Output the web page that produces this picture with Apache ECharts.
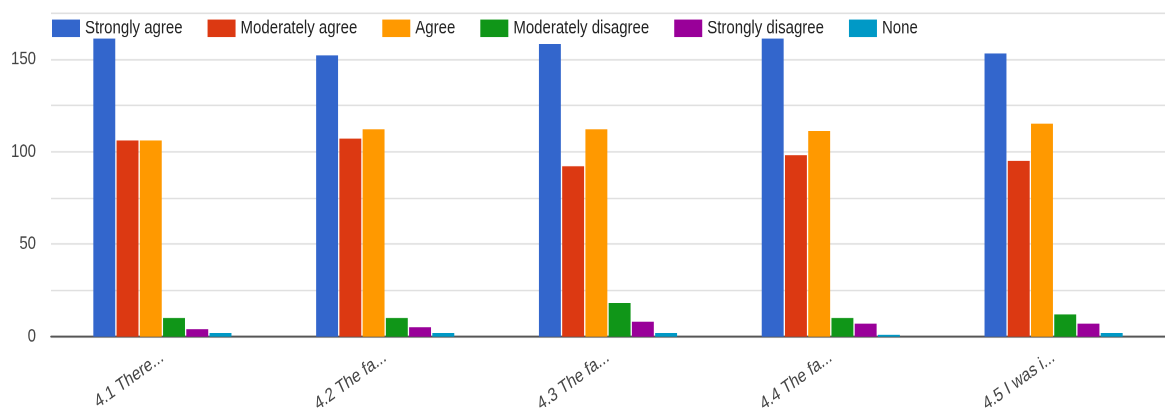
<!DOCTYPE html>
<html>
<head>
<meta charset="utf-8">
<script src="https://cdn.jsdelivr.net/npm/echarts@6/dist/echarts.min.js"></script>
<style>
html,body{margin:0;padding:0;background:#fff;overflow:hidden;width:1165px;height:416px;}
#main{position:absolute;left:0;top:0;width:1165px;height:330px;transform:scaleY(1.260606);transform-origin:0 0;}
</style>
</head>
<body>
<div id="main"></div>
<script>
var categories = ['4.1 There...', '4.2 The fa...', '4.3 The fa...', '4.4 The fa...', '4.5 I was i...'];
var seriesNames = ['Strongly agree', 'Moderately agree', 'Agree', 'Moderately disagree', 'Strongly disagree', 'None'];
var stronglyAgree = [161, 152, 158, 161, 153];
var moderatelyAgree = [106, 107, 92, 98, 95];
var agree = [106, 112, 112, 111, 115];
var moderatelyDisagree = [10, 10, 18, 10, 12];
var stronglyDisagree = [4, 5, 8, 7, 7];
var none = [2, 2, 2, 1, 2];
var yTickLabels = [0, 50, 100, 150];

var colors = ['#3366cc', '#dc3912', '#ff9900', '#109618', '#990099', '#0099c6'];
var values = [stronglyAgree, moderatelyAgree, agree, moderatelyDisagree, stronglyDisagree, none];
var font = "'Liberation Sans', Arial, sans-serif";

var chart = echarts.init(document.getElementById('main'), null, {renderer: 'canvas', devicePixelRatio: 2});
chart.setOption({
  animation: false,
  color: colors,
  textStyle: {fontFamily: font},
  legend: {
    left: 52, top: 15, padding: 0,
    itemWidth: 28, itemHeight: 14, itemGap: 25,
    icon: 'rect',
    textStyle: {fontSize: 15, color: '#222', fontFamily: font},
    data: seriesNames
  },
  grid: {left: 51, width: 1125, top: 10.1, bottom: 62.7, containLabel: false},
  xAxis: {
    type: 'category',
    data: categories,
    axisTick: {show: false},
    axisLine: {lineStyle: {color: '#555', width: 1.6}},
    axisLabel: {rotate: 30, margin: 15, fontSize: 15, color: '#444', fontFamily: font, interval: 0}
  },
  yAxis: {
    type: 'value', min: 0, max: 175, interval: 25,
    axisLine: {show: false}, axisTick: {show: false},
    splitLine: {lineStyle: {color: '#e0e0e0', width: 1.2}},
    axisLabel: {
      margin: 15, fontSize: 15, color: '#444', fontFamily: font,
      formatter: function (v) { return yTickLabels.indexOf(v) >= 0 ? String(v) : ''; }
    }
  },
  series: seriesNames.map(function (n, i) {
    return {
      name: n, type: 'bar', data: values[i],
      barCategoryGap: '38%', barGap: '6%'
    };
  })
});
</script>
</body>
</html>
